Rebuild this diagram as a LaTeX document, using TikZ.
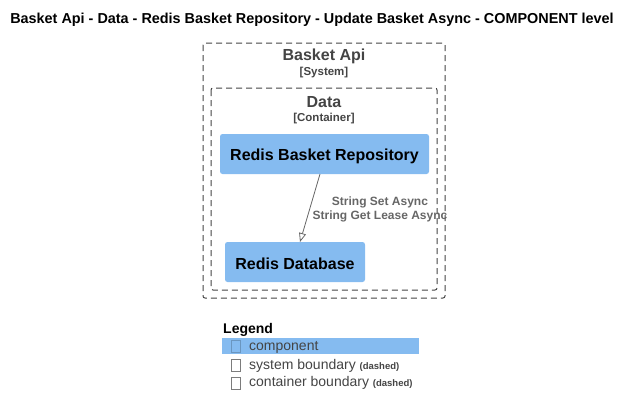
\documentclass[tikz,border=0pt]{standalone}
\usepackage{fontspec}
\setmainfont{Liberation Sans}
\usetikzlibrary{arrows.meta}
\definecolor{compblue}{HTML}{85BBF0}
\definecolor{bgray}{HTML}{444444}
\definecolor{lgray}{HTML}{666666}
\newcommand\legsmallfont{\bfseries\fontsize{9.5}{10}\selectfont}
\tikzset{
  px/.style={x=1pt,y=-1pt},
  boundary/.style={draw=bgray, dash pattern=on 6pt off 4pt, rounded corners=2pt, line width=1pt},
  comp/.style={fill=compblue, rounded corners=2.5pt},
  btitle/.style={text=bgray, font=\bfseries\fontsize{16}{18}\selectfont, inner sep=0pt},
  bsub/.style={text=bgray, font=\bfseries\fontsize{11.5}{13}\selectfont, inner sep=0pt},
  ctext/.style={text=black, font=\bfseries\fontsize{16}{18}\selectfont, inner sep=0pt},
  rel/.style={draw=lgray, line width=0.8pt, -{Triangle[open, length=9pt, width=7pt]}},
  rlabel/.style={text=lgray, font=\bfseries\fontsize{12}{14}\selectfont, inner sep=0pt, align=center},
  legtext/.style={text=bgray, font=\fontsize{14}{16}\selectfont, inner sep=0pt, anchor=west},
  legbox/.style={draw=bgray!70, line width=0.6pt},
}
\begin{document}
\begin{tikzpicture}[px]
\useasboundingbox (0,0) rectangle (633,416);
\node[inner sep=0pt, font=\bfseries\fontsize{14.4}{16}\selectfont] (title) at (312,20) {Basket Api - Data - Redis Basket Repository - Update Basket Async - COMPONENT level};
% outer boundary
\draw[boundary] (203,43) rectangle (445,298);
\node[btitle] (sysname) at (324,56) {Basket Api};
\node[bsub] (syssub) at (324,73) {[System]};
% inner boundary
\draw[boundary] (211,88) rectangle (437,290);
\node[btitle] (contname) at (324,102) {Data};
\node[bsub] (contsub) at (324,119) {[Container]};
% components
\path[comp] (220,134) rectangle (429,174);
\node[ctext] (repo) at (324.5,156) {Redis Basket Repository};
\coordinate (repoBot) at (320,174);
\path[comp] (225,242) rectangle (365,282);
\node[ctext] (db) at (295,264) {Redis Database};
\coordinate (dbTop) at (300,242);
\draw[rel] (repoBot) -- (dbTop);
\node[rlabel] (lab1) at (380,202) {String Set Async};
\node[rlabel] (lab2) at (380,216.5) {String Get Lease Async};
% legend
\node[inner sep=0pt, anchor=west, font=\bfseries\fontsize{14}{16}\selectfont] (leg) at (223,330) {Legend};
\path[fill=compblue] (222,338) rectangle (419,354);
\draw[legbox, draw=compblue!80!black] (231,340) rectangle (240,352);
\node[legtext] (l1) at (249,347) {component};
\draw[legbox] (231,359) rectangle (240,371);
\node[legtext] (l2) at (249,365.5) {system boundary {\legsmallfont(dashed)}};
\draw[legbox] (231,377) rectangle (240,389);
\node[legtext] (l3) at (249,383) {container boundary {\legsmallfont(dashed)}};
\end{tikzpicture}
\end{document}
